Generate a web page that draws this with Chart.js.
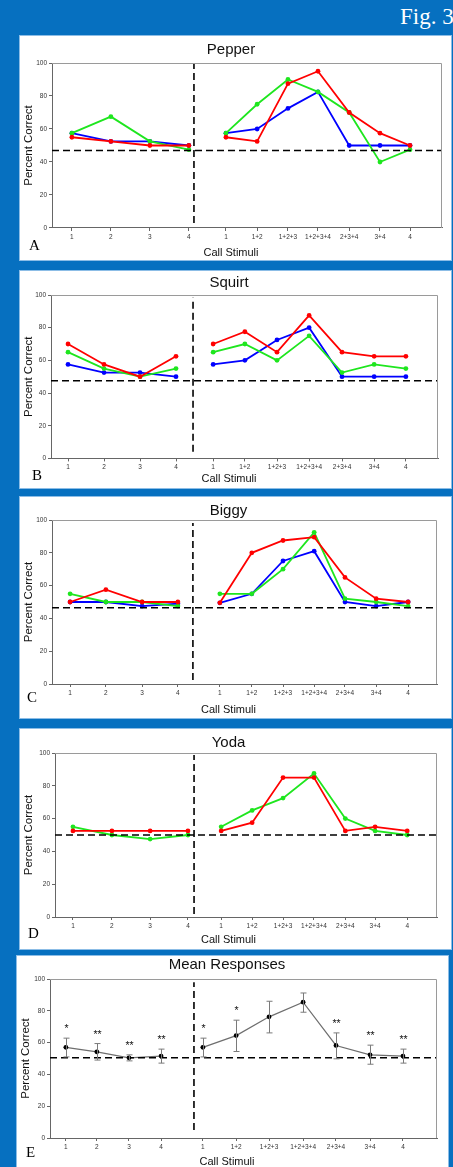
<!DOCTYPE html>
<html>
<head>
<meta charset="utf-8">
<script src="https://cdn.jsdelivr.net/npm/chart.js@4.4.1/dist/chart.umd.min.js"></script>
<style>
  body { margin: 0; width: 453px; height: 1167px; overflow: hidden; position: relative; background: #0670c0; }
  .fig { position: absolute; left: 400px; top: 5px; color: #fff; font: 23px/23px 'Liberation Serif', 'Times New Roman', serif; white-space: nowrap; }
  .panel { position: absolute; background: #fff; box-shadow: 0 0 0 1px #8cbde6; }
  .panel canvas { position: absolute; left: 0; top: 0; }
  .letter { position: absolute; font: 15px/15px 'Liberation Serif', 'Times New Roman', serif; color: #000; }
</style>
</head>
<body>
<div class="fig">Fig. 3</div>

<script>
// x tick labels (4 single calls, then the combinations)
const stimLabels = ['1', '2', '3', '4', '1', '1+2', '1+2+3', '1+2+3+4', '2+3+4', '3+4', '4'];
const yTicks = [0, 20, 40, 60, 80, 100];

// Pepper
const pepperRed   = [55, 52.5, 50, 50, 55, 52.5, 87.5, 95, 70, 57.5, 50];
const pepperGreen = [57.5, 67.5, 52.5, 47.5, 57.5, 75, 90, 82.5, 70, 40, 47.5];
const pepperBlue  = [57.5, 52.5, 52.5, 50, 57.5, 60, 72.5, 82.5, 50, 50, 50];
const pepperChance = 47;
const pepperDivider = [3, 100];

// Squirt
const squirtRed   = [70, 57.5, 50, 62.5, 70, 77.5, 65, 87.5, 65, 62.5, 62.5];
const squirtGreen = [65, 55, 50, 55, 65, 70, 60, 75, 52.5, 57.5, 55];
const squirtBlue  = [57.5, 52.5, 52.5, 50, 57.5, 60, 72.5, 80, 50, 50, 50];
const squirtChance = 47.5;
const squirtDivider = [4, 98.5];

// Biggy
const biggyRed   = [50, 57.5, 50, 50, 49.5, 80, 87.5, 89.5, 65, 52, 50];
const biggyGreen = [55, 50, 50, 47.5, 55, 55, 70, 92.5, 52, 50, 47.5];
const biggyBlue  = [50, 50, 47.5, 49, 49.5, 55, 75, 81, 50, 47.5, 50];
const biggyChance = 46.5;
const biggyDivider = [2.4, 98.2];

// Yoda
const yodaRed   = [52.5, 52.5, 52.5, 52.5, 52.5, 57.5, 85, 85, 52.5, 55, 52.5];
const yodaGreen = [55, 50, 47.5, 50, 55, 65, 72.5, 87.5, 60, 52.5, 50];
const yodaChance = 50;
const yodaDivider = [1.8, 98.8];

// Mean responses
const meanVals = [57, 54.2, 50.4, 51.5, 57, 64.4, 76.2, 85.4, 58.2, 52.3, 51.5];
const meanHi   = [62.8, 59.4, 52.3, 55.9, 62.8, 74.1, 86, 91.2, 66.1, 58.4, 55.9];
const meanLo   = [51, 49, 48.5, 47.1, 51, 54.4, 66.1, 79.1, 49.8, 46.4, 47.1];
const meanSig  = ['*', '**', '**', '**', '*', '*', '', '', '**', '**', '**'];
const meanChance = 50.5;
const meanDivider = [5, 98];

// where the stimuli sit along each x axis (0..100 of the axis width)
const pepperPos = [5.1, 15.1, 25.1, 35.1, 44.6, 52.6, 60.5, 68.2, 76.2, 84.1, 91.8];
const squirtPos = [4.4, 13.7, 23.0, 32.3, 41.9, 50.1, 58.4, 66.7, 75.2, 83.5, 91.7];
const biggyPos  = [4.7, 14.0, 23.4, 32.7, 43.6, 51.9, 60.0, 68.1, 76.1, 84.2, 92.5];
const yodaPos   = [4.7, 14.9, 24.9, 34.8, 43.5, 51.6, 59.7, 67.8, 76.0, 83.8, 92.2];
const meanPos   = [4.1, 12.1, 20.4, 28.7, 39.5, 48.1, 56.6, 65.4, 73.9, 82.7, 91.2];
const pepperDivX = 36.4, squirtDivX = 36.7, biggyDivX = 36.6, yodaDivX = 36.4, meanDivX = 37.2;

const FONT = "'Liberation Sans', Arial, sans-serif";
const RED = '#ff0000', GREEN = '#1ee61e', BLUE = '#0000ff';

function points(pos, vals) {
  const out = [];
  vals.forEach((v, i) => {
    if (i === 4) out.push({ x: (pos[3] + pos[4]) / 2, y: null });
    out.push({ x: pos[i], y: v });
  });
  return out;
}

function seriesLine(pos, vals, color) {
  return {
    data: points(pos, vals),
    borderColor: color,
    backgroundColor: color,
    borderWidth: 1.8,
    pointRadius: 2.4,
    pointBorderWidth: 0,
    pointBackgroundColor: color,
    spanGaps: false
  };
}

function dashed(data) {
  return {
    data: data,
    borderColor: '#000',
    borderWidth: 1.6,
    borderDash: [7, 4],
    pointRadius: 0,
    order: -1
  };
}

const frame = {
  id: 'frame',
  afterDraw(chart) {
    const a = chart.chartArea, ctx = chart.ctx;
    ctx.save();
    ctx.strokeStyle = '#9a9a9a';
    ctx.lineWidth = 1;
    ctx.beginPath();
    ctx.moveTo(a.left, a.top + 0.5);
    ctx.lineTo(a.right - 0.5, a.top + 0.5);
    ctx.lineTo(a.right - 0.5, a.bottom);
    ctx.stroke();
    ctx.restore();
  }
};

function makePanel(p) {
  const W = p.right - p.left, H = p.bottom - p.top;
  const div = document.createElement('div');
  div.className = 'panel';
  Object.assign(div.style, { left: p.left + 'px', top: p.top + 'px', width: W + 'px', height: H + 'px' });
  const cv = document.createElement('canvas');
  cv.width = W; cv.height = H;
  div.appendChild(cv);
  document.body.appendChild(div);

  const letter = document.createElement('div');
  letter.className = 'letter';
  letter.textContent = p.letter;
  Object.assign(letter.style, { left: p.letterX + 'px', top: (p.letterBase - 12.6) + 'px' });
  document.body.appendChild(letter);

  // fit the plot area to the reference
  const tLh = 18, sLh = 13.2, xAxisH = 14;
  const tTop = Math.max(0, p.titleY - p.top - tLh / 2);
  const tBot = Math.max(0, p.plotTop - p.top - tTop - tLh);
  const sBot = Math.max(0, p.bottom - p.xTitleY - sLh / 2);
  const sTop = Math.max(0, (p.bottom - sBot - sLh) - (p.plotBottom + xAxisH));

  const datasets = [
    dashed([{ x: 0, y: p.chance }, { x: 100, y: p.chance }]),
    dashed([{ x: p.divX, y: p.divider[0] }, { x: p.divX, y: p.divider[1] }])
  ].concat(p.series);

  return new Chart(cv.getContext('2d'), {
    type: 'line',
    data: { datasets: datasets },
    options: {
      responsive: false,
      animation: false,
      layout: { padding: { left: 0, right: p.right - p.plotRight, top: 0, bottom: 0 } },
      plugins: {
        legend: { display: false },
        tooltip: { enabled: false },
        title: {
          display: true, text: p.title, color: '#111',
          font: { family: FONT, size: 15, weight: 'normal', lineHeight: 1.2 },
          padding: { top: tTop, bottom: tBot }
        },
        subtitle: {
          display: true, text: 'Call Stimuli', position: 'bottom', color: '#111',
          font: { family: FONT, size: 11, weight: 'normal', lineHeight: 1.2 },
          padding: { top: sTop, bottom: sBot }
        }
      },
      scales: {
        x: {
          type: 'linear', min: 0, max: 100,
          afterBuildTicks: s => { s.ticks = p.pos.map(v => ({ value: v })); },
          afterFit: s => { s.height = xAxisH; },
          ticks: {
            callback: (v, i) => stimLabels[i],
            color: '#333', font: { family: FONT, size: 6.5 },
            maxRotation: 0, autoSkip: false, padding: 2
          },
          grid: { drawOnChartArea: false, tickLength: 3, color: '#666' },
          border: { color: '#666', width: 1 }
        },
        y: {
          min: 0, max: 100,
          afterBuildTicks: s => { s.ticks = yTicks.map(v => ({ value: v })); },
          afterFit: s => { s.width = p.plotLeft - p.left; },
          ticks: { color: '#333', font: { family: FONT, size: 6.5 }, padding: 2 },
          grid: { drawOnChartArea: false, tickLength: 3, color: '#666' },
          border: { color: '#666', width: 1 },
          title: {
            display: true, text: 'Percent Correct', color: '#111',
            font: { family: FONT, size: 11.5, weight: 'normal', lineHeight: 1.2 },
            padding: { top: 2, bottom: 0 }
          }
        }
      }
    },
    plugins: [frame].concat(p.plugins || [])
  });
}

makePanel({
  left: 20, top: 36, right: 451, bottom: 260,
  plotLeft: 52, plotTop: 63, plotRight: 442, plotBottom: 228,
  titleY: 50, xTitleY: 253, letter: 'A', letterX: 29, letterBase: 251,
  title: 'Pepper', pos: pepperPos, chance: pepperChance, divider: pepperDivider, divX: pepperDivX,
  series: [seriesLine(pepperPos, pepperRed, RED), seriesLine(pepperPos, pepperGreen, GREEN), seriesLine(pepperPos, pepperBlue, BLUE)]
});

makePanel({
  left: 20, top: 271, right: 451, bottom: 488,
  plotLeft: 51, plotTop: 295, plotRight: 438, plotBottom: 459,
  titleY: 283, xTitleY: 479, letter: 'B', letterX: 32, letterBase: 481,
  title: 'Squirt', pos: squirtPos, chance: squirtChance, divider: squirtDivider, divX: squirtDivX,
  series: [seriesLine(squirtPos, squirtRed, RED), seriesLine(squirtPos, squirtGreen, GREEN), seriesLine(squirtPos, squirtBlue, BLUE)]
});

makePanel({
  left: 20, top: 497, right: 451, bottom: 718,
  plotLeft: 52, plotTop: 520, plotRight: 437, plotBottom: 684,
  titleY: 510.5, xTitleY: 710, letter: 'C', letterX: 27, letterBase: 703,
  title: 'Biggy', pos: biggyPos, chance: biggyChance, divider: biggyDivider, divX: biggyDivX,
  series: [seriesLine(biggyPos, biggyRed, RED), seriesLine(biggyPos, biggyGreen, GREEN), seriesLine(biggyPos, biggyBlue, BLUE)]
});

makePanel({
  left: 20, top: 729, right: 451, bottom: 949,
  plotLeft: 55, plotTop: 753, plotRight: 437, plotBottom: 917,
  titleY: 743, xTitleY: 940, letter: 'D', letterX: 28, letterBase: 939,
  title: 'Yoda', pos: yodaPos, chance: yodaChance, divider: yodaDivider, divX: yodaDivX,
  series: [seriesLine(yodaPos, yodaRed, RED), seriesLine(yodaPos, yodaGreen, GREEN)]
});

// error bars and significance stars for the mean panel
const errorBars = {
  id: 'errorBars',
  afterDatasetsDraw(chart) {
    const xs = chart.scales.x, ys = chart.scales.y, ctx = chart.ctx;
    ctx.save();
    ctx.strokeStyle = '#7a7a7a';
    ctx.lineWidth = 1;
    meanPos.forEach((p, i) => {
      const x = Math.round(xs.getPixelForValue(p)) + 0.5;
      const hi = ys.getPixelForValue(meanHi[i]), lo = ys.getPixelForValue(meanLo[i]);
      ctx.beginPath();
      ctx.moveTo(x, hi); ctx.lineTo(x, lo);
      ctx.moveTo(x - 3, hi); ctx.lineTo(x + 3, hi);
      ctx.moveTo(x - 3, lo); ctx.lineTo(x + 3, lo);
      ctx.stroke();
      if (meanSig[i]) {
        ctx.fillStyle = '#111';
        ctx.font = "10.5px " + FONT;
        ctx.textAlign = 'center';
        ctx.textBaseline = 'alphabetic';
        ctx.fillText(meanSig[i], x, hi - 6);
      }
    });
    ctx.restore();
  }
};

const meanSeries = seriesLine(meanPos, meanVals, '#6e6e6e');
meanSeries.borderWidth = 1.2;
meanSeries.pointBackgroundColor = '#000';
meanSeries.pointRadius = 2.4;

makePanel({
  left: 17, top: 956, right: 448, bottom: 1175,
  plotLeft: 50, plotTop: 979, plotRight: 437, plotBottom: 1138,
  titleY: 965, xTitleY: 1162, letter: 'E', letterX: 26, letterBase: 1158,
  title: 'Mean Responses', pos: meanPos, chance: meanChance, divider: meanDivider, divX: meanDivX,
  series: [meanSeries], plugins: [errorBars]
});
</script>
</body>
</html>
